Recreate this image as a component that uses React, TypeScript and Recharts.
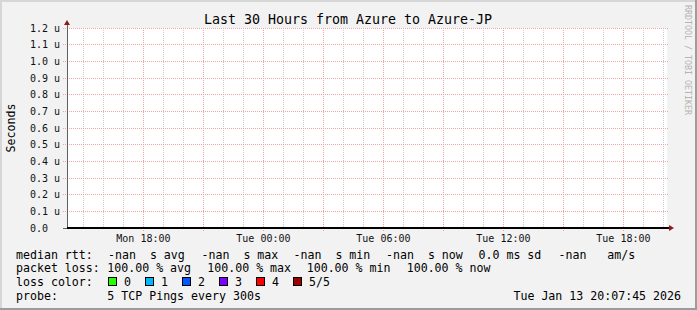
import React from "react";
import { LineChart, Line, XAxis, YAxis, ReferenceLine, ReferenceArea } from "recharts";

// ── data (time in hours since Mon 00:00, rtt in microseconds) ────────────────
const DOMAIN_START = 14.18;
const DOMAIN_END = 44.18;
const sampleHours = [14.18, 18, 24, 30, 36, 42, 44.18];
const medianRtt: (number | null)[] = [null, null, null, null, null, null, null];

const xTickHours = [18, 24, 30, 36, 42];
const xTickLabels = ["Mon 18:00", "Tue 00:00", "Tue 06:00", "Tue 12:00", "Tue 18:00"];
const majorGridHours = [18, 21, 24, 27, 30, 33, 36, 39, 42];
const minorGridHours = [15, 16, 17, 19, 20, 22, 23, 25, 26, 28, 29, 31, 32, 34, 35, 37, 38, 40, 41, 43, 44];
const yTicks = [0, 0.1, 0.2, 0.3, 0.4, 0.5, 0.6, 0.7, 0.8, 0.9, 1.0, 1.1, 1.2];

const lossColors = ["#26ff00", "#00b8ff", "#0059ff", "#7e00ff", "#ff0000", "#a10000"];
const lossLabels = ["0", "1", "2", "3", "4", "5/5"];

const rttLegend = ["median rtt:", "-nan  s avg", "-nan  s max", "-nan  s min", "-nan  s now", "0.0 ms sd", "-nan   am/s"];
const lossLegend = ["packet loss:", "100.00 % avg", "100.00 % max", "100.00 % min", "100.00 % now"];
const probeLegend = ["probe:", "5 TCP Pings every 300s"];
const stampText = "Tue Jan 13 20:07:45 2026";

// ── layout ───────────────────────────────────────────────────────────────────
const W = 697;
const H = 310;
const MONO = "'DejaVu Sans Mono', monospace";
const rttLegendX = [16, 108, 201.5, 293.5, 386, 478.5, 558.5];
const lossLegendX = [16, 107.3, 207.3, 306.7, 406.7];
const probeLegendX = [16, 107.3];
const GRID_RED = "#f0a4a4";
const GRID_GREY = "#cccccc";

const chartData = sampleHours.map((t, i) => ({ t, rtt: medianRtt[i] }));

const fmtY = (v: number) => (v === 0 ? "0.0" : `${v.toFixed(1)} u`);

const vLine = (color: string, extend: number) => (p: any) => {
  const top = Math.min(p.y1, p.y2);
  const bottom = Math.max(p.y1, p.y2);
  return (
    <line x1={p.x1} x2={p.x2} y1={top} y2={bottom + extend} stroke={color}
      strokeDasharray="1 1" shapeRendering="crispEdges" />
  );
};

const hLine = (p: any) => {
  const l = Math.min(p.x1, p.x2);
  const r = Math.max(p.x1, p.x2);
  return (
    <line x1={l - 4} x2={r + 1} y1={p.y1} y2={p.y2} stroke={GRID_RED}
      strokeDasharray="1 1" shapeRendering="crispEdges" />
  );
};

const yAxisShape = (p: any) => {
  const x = p.x1;
  const top = Math.min(p.y1, p.y2);
  const bottom = Math.max(p.y1, p.y2);
  return (
    <g>
      <line x1={x - 4} x2={x} y1={bottom} y2={bottom} stroke="#606060" shapeRendering="crispEdges" />
      <line x1={x} x2={x} y1={bottom} y2={top - 3} stroke="#606060" shapeRendering="crispEdges" />
      <polygon points={`${x - 3},${top - 3} ${x + 3},${top - 3} ${x},${top - 8}`} fill="#8b1a1a" />
    </g>
  );
};

const xAxisShape = (p: any) => {
  const y = p.y1;
  const l = Math.min(p.x1, p.x2);
  const r = Math.max(p.x1, p.x2);
  return (
    <g>
      <line x1={l} x2={r + 2} y1={y} y2={y} stroke="#000" strokeWidth={1.3} shapeRendering="crispEdges" />
      <polygon points={`${r + 2},${y - 3} ${r + 2},${y + 3} ${r + 7},${y}`} fill="#8b1a1a" />
    </g>
  );
};

const YTick = ({ y, payload }: any) => (
  <text x={30} y={y} dominantBaseline="central" fontFamily={MONO} fontSize={10} fill="#111">
    {fmtY(payload.value)}
  </text>
);

const XTick = ({ x, payload }: any) => {
  const i = xTickHours.indexOf(payload.value);
  return (
    <text x={x} y={238} textAnchor="middle" dominantBaseline="central" fontFamily={MONO} fontSize={10} fill="#111">
      {xTickLabels[i]}
    </text>
  );
};

const LegendText = ({ x, y, children, anchor = "start" }: any) => (
  <text x={x} y={y} textAnchor={anchor} dominantBaseline="central" fontFamily={MONO} fontSize={11.6} fill="#000"
    xmlSpace="preserve" style={{ whiteSpace: "pre" }}>
    {children}
  </text>
);

export default function App() {
  return (
    <div style={{ position: "fixed", left: 0, top: 0, width: W, height: H, background: "#f2f2f2", overflow: "hidden" }}>
      <LineChart width={W} height={H} data={chartData} margin={{ top: 28, right: 30, bottom: 52, left: 7 }}>
        <XAxis dataKey="t" type="number" domain={[DOMAIN_START, DOMAIN_END]} ticks={xTickHours} interval={0}
          allowDataOverflow axisLine={false} tickLine={false} height={30} tick={<XTick />} />
        <YAxis type="number" domain={[0, 1.2]} ticks={yTicks} interval={0} allowDataOverflow
          axisLine={false} tickLine={false} width={60} tick={<YTick />} />
        <ReferenceArea x1={DOMAIN_START} x2={DOMAIN_END} y1={0} y2={1.2} fill="#ffffff" fillOpacity={1} stroke="none" />
        {minorGridHours.map((h) => (
          <ReferenceLine key={`mi${h}`} x={h} shape={vLine(GRID_GREY, 0)} />
        ))}
        {majorGridHours.map((h) => (
          <ReferenceLine key={`ma${h}`} x={h} shape={vLine(GRID_RED, 3)} />
        ))}
        {yTicks.filter((v) => v > 0).map((v) => (
          <ReferenceLine key={`h${v}`} y={v} shape={hLine} />
        ))}
        <ReferenceLine x={DOMAIN_START} shape={yAxisShape} />
        <ReferenceLine y={0} shape={xAxisShape} />
        <Line dataKey="rtt" type="linear" stroke="#26ff00" strokeWidth={1} dot={false}
          isAnimationActive={false} connectNulls={false} />
      </LineChart>

      <svg width={W} height={H} style={{ position: "absolute", left: 0, top: 0, pointerEvents: "none" }}>
        <text x={348} y={19.5} textAnchor="middle" dominantBaseline="central" fontFamily={MONO} fontSize={13.3} fill="#000">
          Last 30 Hours from Azure to Azure-JP
        </text>
        <text transform="translate(11,128) rotate(-90)" textAnchor="middle" dominantBaseline="central"
          fontFamily={MONO} fontSize={11.6} fill="#000">
          Seconds
        </text>
        <text transform="translate(688,60) rotate(90)" textAnchor="middle" dominantBaseline="central"
          fontFamily={MONO} fontSize={8.3} fill="#b4b4b4">
          RRDTOOL / TOBI OETIKER
        </text>

        {rttLegend.map((s, i) => (
          <LegendText key={`r${i}`} x={rttLegendX[i]} y={254.7}>{s}</LegendText>
        ))}
        {lossLegend.map((s, i) => (
          <LegendText key={`l${i}`} x={lossLegendX[i]} y={268.3}>{s}</LegendText>
        ))}
        <LegendText x={16} y={282.3}>loss color:</LegendText>
        {lossColors.map((c, i) => (
          <g key={`c${i}`}>
            <rect x={108.5 + i * 37} y={277.5} width={8} height={8} fill={c} stroke="#000" strokeWidth={1} />
            <LegendText x={124 + i * 37} y={282.3}>{lossLabels[i]}</LegendText>
          </g>
        ))}
        {probeLegend.map((s, i) => (
          <LegendText key={`p${i}`} x={probeLegendX[i]} y={296}>{s}</LegendText>
        ))}
        <LegendText x={681} y={296} anchor="end">{stampText}</LegendText>
      </svg>

      <div style={{ position: "absolute", left: 0, top: 0, width: W, height: 2, background: "#d6d6d6" }} />
      <div style={{ position: "absolute", left: 0, top: 0, width: 2, height: H, background: "#d6d6d6" }} />
      <div style={{ position: "absolute", left: 0, top: H - 2, width: W, height: 2, background: "#9c9c9c" }} />
      <div style={{ position: "absolute", left: W - 2, top: 0, width: 2, height: H, background: "#9c9c9c" }} />
    </div>
  );
}
